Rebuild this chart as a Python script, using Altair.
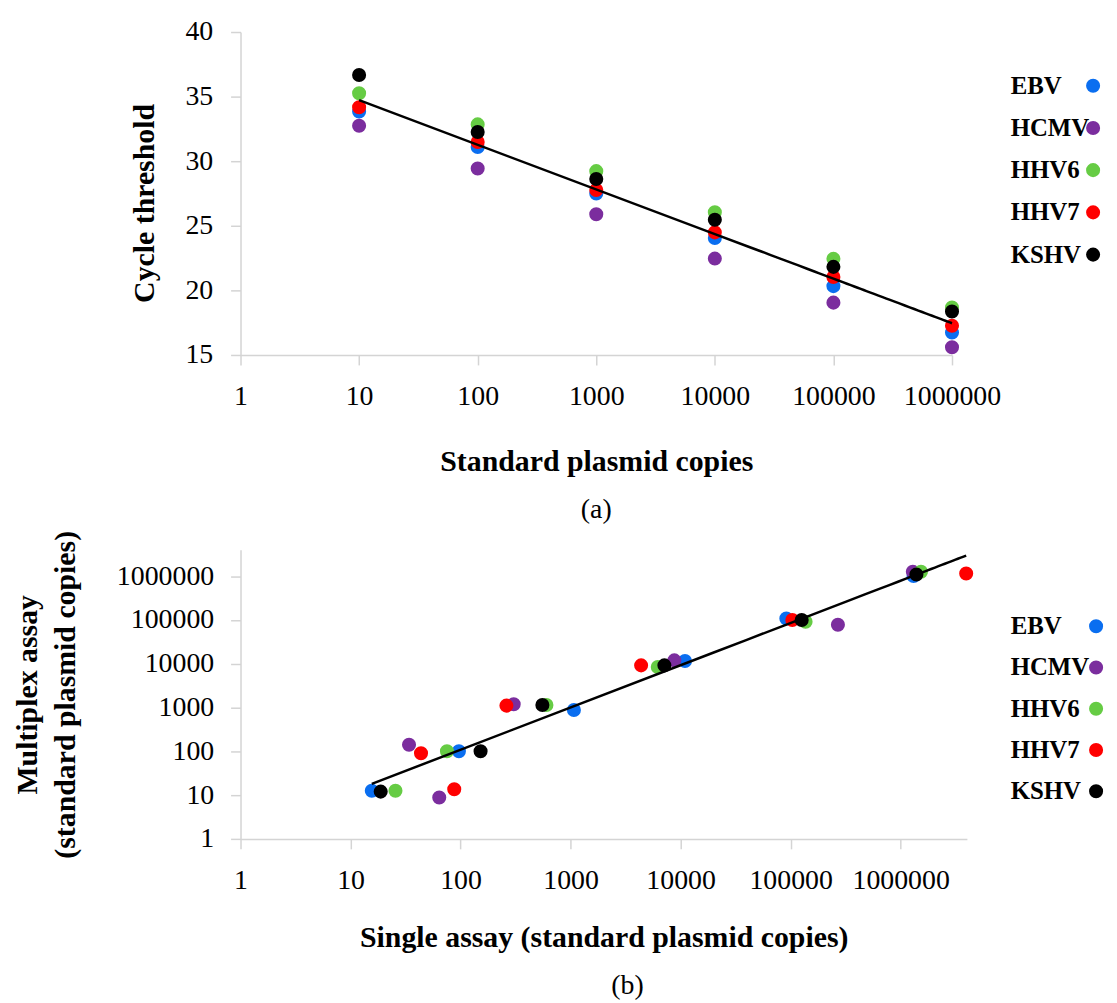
import altair as alt
import pandas as pd

FONT = "Liberation Serif"

viruses = ["EBV", "HCMV", "HHV6", "HHV7", "KSHV"]
colors = ["#0A6EF0", "#7B2D9E", "#66CC44", "#FF0000", "#000000"]

# Panel (a): cycle threshold vs standard plasmid copies
standard_copies = [10, 100, 1000, 10000, 100000, 1000000]
ct_ebv = [33.85, 31.10, 27.50, 24.05, 20.33, 16.74]
ct_hcmv = [32.74, 29.44, 25.90, 22.46, 19.05, 15.59]
ct_hhv6 = [35.26, 32.85, 29.23, 26.05, 22.44, 18.67]
ct_hhv7 = [34.18, 31.49, 27.77, 24.49, 21.03, 17.26]
ct_kshv = [36.67, 32.26, 28.62, 25.46, 21.82, 18.36]

# Panel (b): multiplex vs single assay
single_ebv = [15.6, 96.6, 1072, 10960, 91400, 1310000]
multi_ebv = [12.5, 100, 877, 11500, 108000, 1000000]
single_hcmv = [64, 34, 304, 8770, 269000, 1290000]
multi_hcmv = [8.8, 141, 1180, 11900, 77600, 1260000]
single_hhv6 = [25.6, 75.2, 603, 6200, 136700, 1530000]
multi_hhv6 = [12.5, 100, 1137, 8430, 90800, 1260000]
single_hhv7 = [87.6, 43.7, 261, 4375, 103600, 3940000]
multi_hhv7 = [13.6, 90, 1104, 9160, 99300, 1150000]
single_kshv = [18.8, 152, 554, 7120, 126000, 1390000]
multi_kshv = [12.0, 100, 1137, 9160, 99300, 1090000]

ticks_a_x = [1, 10, 100, 1000, 10000, 100000, 1000000]
ticks_a_y = [15, 20, 25, 30, 35, 40]
ticks_b = [1, 10, 100, 1000, 10000, 100000, 1000000]

ct_all = [ct_ebv, ct_hcmv, ct_hhv6, ct_hhv7, ct_kshv]
rows_a = []
for v, cts in zip(viruses, ct_all):
    for c, ct in zip(standard_copies, cts):
        rows_a.append({"virus": v, "copies": c, "ct": ct})
df_a = pd.DataFrame(rows_a)

singles = [single_ebv, single_hcmv, single_hhv6, single_hhv7, single_kshv]
multis = [multi_ebv, multi_hcmv, multi_hhv6, multi_hhv7, multi_kshv]
rows_b = []
for v, s_list, m_list in zip(viruses, singles, multis):
    for s, m in zip(s_list, m_list):
        rows_b.append({"virus": v, "single": s, "multi": m})
df_b = pd.DataFrame(rows_b)

df_leg = pd.DataFrame({"virus": viruses})

color = alt.Color("virus:N", scale=alt.Scale(domain=viruses, range=colors), legend=None)

W_A, H_A = 716, 325
W_B, H_B = 731, 291
DOT = 200
LEG_FS = 25

# ---------- Panel (a)
xa = alt.X("copies:Q",
           scale=alt.Scale(type="log", domain=[1, 1000000]),
           axis=alt.Axis(values=ticks_a_x, format="d", title="Standard plasmid copies",
                         labelPadding=18, titlePadding=36))
ya = alt.Y("ct:Q",
           scale=alt.Scale(domain=[15, 40], zero=False, nice=False),
           axis=alt.Axis(values=ticks_a_y, title="Cycle threshold",
                         labelPadding=18, titlePadding=26, titleY=172))

pts_a = alt.Chart(df_a).mark_circle(size=DOT, opacity=1).encode(x=xa, y=ya, color=color)
reg_a = (alt.Chart(df_a)
         .transform_regression("copies", "ct", method="log")
         .mark_line(color="black", strokeWidth=2.5)
         .encode(x=xa, y=ya))

leg_y_a = alt.Y("virus:N", scale=alt.Scale(type="point", domain=viruses, range=[54, 224], padding=0), axis=None)
leg_text_a = alt.Chart(df_leg).mark_text(align="left", baseline="middle", font=FONT,
                                          fontSize=LEG_FS, fontWeight="bold", color="black").encode(
    x=alt.value(775), y=leg_y_a, text="virus:N")
leg_dot_a = alt.Chart(df_leg).mark_circle(size=DOT, opacity=1).encode(
    x=alt.value(858), y=leg_y_a, color=color)

panel_a = alt.layer(
    alt.layer(pts_a, reg_a),
    alt.layer(leg_text_a, leg_dot_a),
).resolve_scale(y="independent").properties(
    width=W_A, height=H_A,
    title=alt.TitleParams("(a)", orient="bottom", fontWeight="normal", font=FONT,
                          fontSize=28, offset=20, anchor="middle"))

# ---------- Panel (b)
xb = alt.X("single:Q",
           scale=alt.Scale(type="log", domain=[1, 4000000]),
           axis=alt.Axis(values=ticks_b, format="d", title="Single assay (standard plasmid copies)",
                         labelPadding=18, titlePadding=28))
yb = alt.Y("multi:Q",
           scale=alt.Scale(type="log", domain=[1, 4000000]),
           axis=alt.Axis(values=ticks_b, format="d",
                         title=["Multiplex assay", "(standard plasmid copies)"],
                         labelPadding=17, titlePadding=36, titleLineHeight=38))

pts_b = alt.Chart(df_b).mark_circle(size=DOT, opacity=1).encode(x=xb, y=yb, color=color)
reg_b = (alt.Chart(df_b)
         .transform_regression("single", "multi", method="pow")
         .mark_line(color="black", strokeWidth=2.5)
         .encode(x=xb, y=yb))

leg_y_b = alt.Y("virus:N", scale=alt.Scale(type="point", domain=viruses, range=[77, 243], padding=0), axis=None)
leg_text_b = alt.Chart(df_leg).mark_text(align="left", baseline="middle", font=FONT,
                                          fontSize=LEG_FS, fontWeight="bold", color="black").encode(
    x=alt.value(775), y=leg_y_b, text="virus:N")
leg_dot_b = alt.Chart(df_leg).mark_circle(size=DOT, opacity=1).encode(
    x=alt.value(861), y=leg_y_b, color=color)

panel_b = alt.layer(
    alt.layer(pts_b, reg_b),
    alt.layer(leg_text_b, leg_dot_b),
).resolve_scale(y="independent").properties(
    width=W_B, height=H_B,
    title=alt.TitleParams("(b)", orient="bottom", fontWeight="normal", font=FONT,
                          fontSize=28, offset=20, anchor="middle", dx=24))

chart = alt.vconcat(panel_a, panel_b, spacing=196, bounds="flush").properties(
    padding={"left": 5, "top": 7, "right": 5, "bottom": 2}
).configure_view(stroke=None).configure_axis(
    grid=False,
    domainColor="#d4d4d4",
    domainWidth=1.5,
    tickColor="#d4d4d4",
    tickWidth=1.5,
    tickSize=10,
    labelFont=FONT,
    labelFontSize=28,
    labelColor="black",
    titleFont=FONT,
    titleFontSize=30,
    titleFontWeight="bold",
    titleColor="black",
).configure_axisX(labelFlush=False, labelOverlap=False).configure_axisY(labelOverlap=False)

chart.save("out.html", embed_options={"renderer": "svg", "actions": False})
